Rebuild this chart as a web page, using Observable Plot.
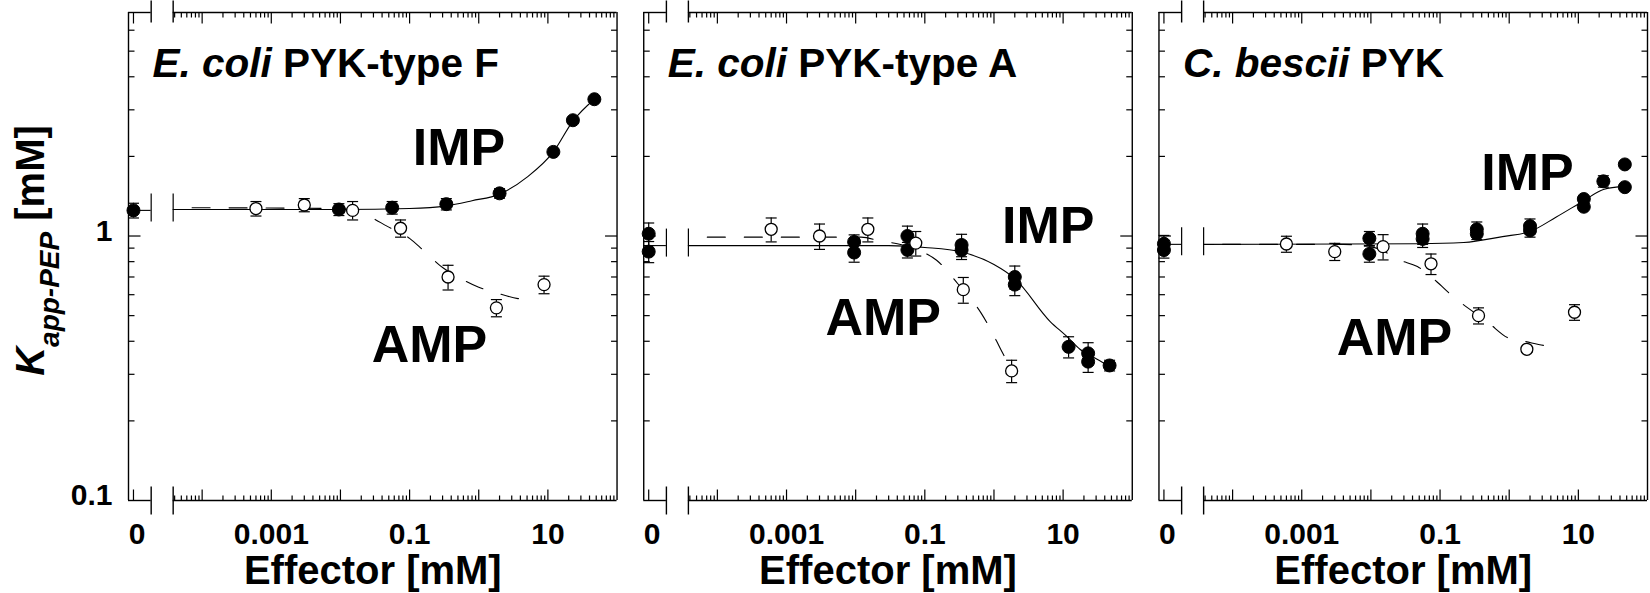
<!DOCTYPE html>
<html>
<head>
<meta charset="utf-8">
<script src="https://cdn.jsdelivr.net/npm/d3@7"></script>
<script src="https://cdn.jsdelivr.net/npm/@observablehq/plot@0.6"></script>
<style>
  html, body { margin: 0; padding: 0; background: #fff; }
  #chart svg { display: block; }
</style>
</head>
<body>
<div id="chart"></div>
<script>
// ---------- data ----------
const panels = ["E. coli PYK-type F", "E. coli PYK-type A", "C. bescii PYK"];
const panelItalic = ["E. coli", "E. coli", "C. bescii"];
const panelRest = [" PYK-type F", " PYK-type A", " PYK"];

// [panel, effector mM, Kapp-PEP mM, ± error]
const impPoints = [
  [0, 0, 1.25, 0.08], [0, 0.0095, 1.26, 0.065], [0, 0.056, 1.28, 0.07], [0, 0.34, 1.32, 0.065],
  [0, 2.0, 1.45, 0.06], [0, 12, 2.08, 0.05], [0, 23, 2.74, 0.06], [0, 47, 3.29, 0.07],
  [1, 0, 1.02, 0.1], [1, 0, 0.873, 0.08], [1, 0.0095, 0.95, 0.06], [1, 0.0095, 0.866, 0.07],
  [1, 0.056, 1.0, 0.09], [1, 0.056, 0.886, 0.06], [1, 0.34, 0.925, 0.09], [1, 0.34, 0.885, 0.07],
  [1, 2.0, 0.70, 0.07], [1, 2.0, 0.655, 0.06], [1, 12, 0.381, 0.035], [1, 23, 0.36, 0.035],
  [1, 23, 0.335, 0.03], [1, 47, 0.324, 0.015],
  [2, 0, 0.935, 0.07], [2, 0, 0.885, 0.06], [2, 0.0095, 0.98, 0.06], [2, 0.0095, 0.856, 0.06],
  [2, 0.056, 1.02, 0.09], [2, 0.056, 0.975, 0.07], [2, 0.34, 1.06, 0.07], [2, 0.34, 1.02, 0.05],
  [2, 2.0, 1.09, 0.07], [2, 2.0, 1.05, 0.06], [2, 12, 1.38, 0.03], [2, 12, 1.29, 0.03],
  [2, 23, 1.61, 0.08], [2, 47, 1.865, 0.02], [2, 47, 1.53, 0.02]
];
const ampPoints = [
  [0, 0.0006, 1.27, 0.08], [0, 0.003, 1.31, 0.075], [0, 0.015, 1.25, 0.1], [0, 0.074, 1.07, 0.08],
  [0, 0.36, 0.70, 0.075], [0, 1.8, 0.535, 0.04], [0, 8.8, 0.655, 0.05],
  [1, 0.0006, 1.06, 0.11], [1, 0.003, 1.0, 0.11], [1, 0.015, 1.06, 0.11], [1, 0.074, 0.94, 0.1],
  [1, 0.36, 0.627, 0.07], [1, 1.8, 0.309, 0.03],
  [2, 0.0006, 0.933, 0.065], [2, 0.003, 0.873, 0.065], [2, 0.015, 0.912, 0.1], [2, 0.074, 0.785, 0.07],
  [2, 0.36, 0.50, 0.035], [2, 1.8, 0.373, 0.01], [2, 8.8, 0.515, 0.035]
];

// fitted curves: [panel, effector mM, Kapp-PEP mM]
const impFit = [
  [0, 3.8e-5, 1.26], [0, 0.01, 1.26], [0, 0.1, 1.27], [0, 0.34, 1.3], [0, 0.8, 1.36], [0, 2, 1.44],
  [0, 5, 1.67], [0, 12, 2.08], [0, 23, 2.72], [0, 47, 3.29],
  [1, 3.8e-5, 0.92], [1, 0.03, 0.92], [1, 0.1, 0.905], [1, 0.34, 0.87], [1, 1, 0.78], [1, 2, 0.69],
  [1, 6.5, 0.475], [1, 11.2, 0.418], [1, 17.5, 0.373], [1, 31, 0.342], [1, 47, 0.322],
  [2, 3.8e-5, 0.93], [2, 0.05, 0.935], [2, 0.22, 0.945], [2, 0.8, 0.995], [2, 2, 1.04],
  [2, 4.8, 1.18], [2, 12, 1.36], [2, 23, 1.5], [2, 47, 1.54]
];
const ampFit = [
  [0, 3.8e-5, 1.28], [0, 0.01, 1.27], [0, 0.027, 1.18], [0, 0.047, 1.09], [0, 0.1, 0.98],
  [0, 0.16, 0.88], [0, 0.3, 0.76], [0, 0.5, 0.7], [0, 1.0, 0.64], [0, 1.8, 0.61], [0, 3.7, 0.58], [0, 6, 0.575],
  [1, 3.8e-5, 0.99], [1, 0.012, 0.99], [1, 0.024, 0.955], [1, 0.04, 0.935], [1, 0.09, 0.873],
  [1, 0.148, 0.81], [1, 0.3, 0.66], [1, 0.656, 0.51], [1, 0.91, 0.44], [1, 1.25, 0.373], [1, 1.6, 0.33],
  [2, 3.8e-5, 0.93], [2, 0.004, 0.93], [2, 0.012, 0.9], [2, 0.026, 0.81], [2, 0.047, 0.767],
  [2, 0.089, 0.673], [2, 0.144, 0.6], [2, 0.5, 0.47], [2, 1.0, 0.41], [2, 1.63, 0.4],
  [2, 3.3, 0.385], [2, 5.6, 0.38]
];
// fitted IMP level over the "0" segment of each panel
const impZeroLevel = [1.25, 0.92, 0.93];

// effector labels: [panel, text, effector mM, Kapp mM] (anchor at baseline start)
const effectorLabels = [
  [0, "IMP", 0.111, 1.855], [0, "AMP", 0.0283, 0.335],
  [1, "IMP", 1.31, 0.939], [1, "AMP", 0.00365, 0.422],
  [2, "IMP", 0.395, 1.49], [2, "AMP", 0.0032, 0.355]
];

// ticks and tick labels
const xMajorTicks = [0, 1e-4, 1e-3, 1e-2, 1e-1, 1, 10];
const xMinorTicks = [];
for (let e = -5; e <= 1; e++) for (let m = 2; m <= 9; m++) {
  const v = +(m * Math.pow(10, e)).toPrecision(3);
  if (v > 3.81e-5 && v < 100) xMinorTicks.push(v);
}
const xTickLabels = [0.001, 0.1, 10];
const xZeroLabel = ["0"];
const yMajorTicks = [1];
const yMinorTicks = [0.2, 0.3, 0.4, 0.5, 0.6, 0.7, 0.8, 0.9, 2, 3, 4, 5, 6];
const yTickLabels = [0.1, 1];
const xTitle = "Effector [mM]";
const yTitle = "K app-PEP [mM]";

// ---------- scale geometry (broken log axis with a "0" segment) ----------
const X_MIN = 8.61e-6, ZERO_AT = 1.016e-5, BREAK_L = 1.832e-5, BREAK_R = 3.81e-5, X_MAX = 100;
const Y_MIN = 0.1, Y_MAX = 7;
const xPos = v => (v === 0 ? ZERO_AT : v);
const P = i => panels[i];

const seg = (x1, y1, x2, y2) => ({
  draw(ctx, size) { const r = Math.sqrt(size / Math.PI); ctx.moveTo(x1 * r, y1 * r); ctx.lineTo(x2 * r, y2 * r); }
});
const symUp = seg(0, 0, 0, -1), symDown = seg(0, 0, 0, 1);
const symRight = seg(0, 0, 1, 0), symLeft = seg(0, 0, -1, 0);
const symV = seg(0, -1, 0, 1), symH = seg(-1, 0, 1, 0);

const FONT = "'Liberation Sans', Arial, Helvetica, sans-serif";
const tickStyle = {fill: "none", stroke: "black", strokeWidth: 1.2};

function errorBars(points) {
  return [
    Plot.ruleX(points, {fx: d => P(d[0]), x: d => xPos(d[1]), y1: d => d[2] - d[3], y2: d => d[2] + d[3], stroke: "black", strokeWidth: 1.2}),
    Plot.dot(points, {fx: d => P(d[0]), x: d => xPos(d[1]), y: d => d[2] - d[3], symbol: symH, r: 5.5, ...tickStyle}),
    Plot.dot(points, {fx: d => P(d[0]), x: d => xPos(d[1]), y: d => d[2] + d[3], symbol: symH, r: 5.5, ...tickStyle})
  ];
}

const svg = Plot.plot({
  width: 1650,
  height: 593,
  marginLeft: 128,
  marginRight: 3,
  marginTop: 12,
  marginBottom: 93,
  style: {fontFamily: FONT, background: "white", overflow: "visible"},
  fx: {domain: panels, axis: null, paddingInner: 0.0518, paddingOuter: 0, round: false},
  x: {type: "log", domain: [X_MIN, X_MAX], axis: null},
  y: {type: "log", domain: [Y_MIN, Y_MAX], axis: null},
  marks: [
    // frame with a gap at the axis break
    Plot.ruleY([Y_MIN, Y_MAX], {y: d => d, x1: X_MIN, x2: BREAK_L, stroke: "black", strokeWidth: 1.4}),
    Plot.ruleY([Y_MIN, Y_MAX], {y: d => d, x1: BREAK_R, x2: X_MAX, stroke: "black", strokeWidth: 1.4}),
    Plot.ruleX([X_MIN, X_MAX], {x: d => d, stroke: "black", strokeWidth: 1.4}),
    // inward ticks on all four sides
    Plot.dot(xMajorTicks, {x: xPos, frameAnchor: "bottom", symbol: symUp, r: 11, ...tickStyle}),
    Plot.dot(xMajorTicks, {x: xPos, frameAnchor: "top", symbol: symDown, r: 11, ...tickStyle}),
    Plot.dot(xMinorTicks, {x: d => d, frameAnchor: "bottom", symbol: symUp, r: 5, ...tickStyle}),
    Plot.dot(xMinorTicks, {x: d => d, frameAnchor: "top", symbol: symDown, r: 5, ...tickStyle}),
    Plot.dot(yMajorTicks, {y: d => d, frameAnchor: "left", symbol: symRight, r: 12, ...tickStyle}),
    Plot.dot(yMajorTicks, {y: d => d, frameAnchor: "right", symbol: symLeft, r: 12, ...tickStyle}),
    Plot.dot(yMinorTicks, {y: d => d, frameAnchor: "left", symbol: symRight, r: 6, ...tickStyle}),
    Plot.dot(yMinorTicks, {y: d => d, frameAnchor: "right", symbol: symLeft, r: 6, ...tickStyle}),
    // axis-break marks
    Plot.dot([BREAK_L, BREAK_R], {x: d => d, frameAnchor: "bottom", symbol: symV, r: 14, ...tickStyle, strokeWidth: 1.4}),
    Plot.dot([BREAK_L, BREAK_R], {x: d => d, frameAnchor: "top", symbol: symV, r: 11, dy: -1, ...tickStyle, strokeWidth: 1.4}),
    // IMP fit over the "0" segment, with break bars
    Plot.ruleY(impZeroLevel, {fx: (d, i) => P(i), y: d => d, x1: ZERO_AT, x2: BREAK_L, stroke: "black", strokeWidth: 1.1}),
    Plot.dot(impZeroLevel, {fx: (d, i) => P(i), y: d => d, x: BREAK_L, symbol: symV, r: 14, dy: -3, ...tickStyle}),
    Plot.dot(impZeroLevel, {fx: (d, i) => P(i), y: d => d, x: BREAK_R, symbol: symV, r: 14, dy: -3, ...tickStyle}),
    // fitted curves
    Plot.line(ampFit, {fx: d => P(d[0]), x: d => d[1], y: d => d[2], curve: "monotone-x", stroke: "black", strokeWidth: 1.1, strokeDasharray: "18,19", strokeDashoffset: 18}),
    Plot.line(impFit, {fx: d => P(d[0]), x: d => d[1], y: d => d[2], curve: "monotone-x", stroke: "black", strokeWidth: 1.1}),
    // IMP (filled) points
    ...errorBars(impPoints),
    Plot.dot(impPoints, {fx: d => P(d[0]), x: d => xPos(d[1]), y: d => d[2], r: 6.5, fill: "black", stroke: "black", strokeWidth: 1}),
    // AMP (open) points
    ...errorBars(ampPoints),
    Plot.dot(ampPoints, {fx: d => P(d[0]), x: d => xPos(d[1]), y: d => d[2], r: 6, fill: "white", stroke: "black", strokeWidth: 1.3}),
    // panel titles
    Plot.text(panels, {fx: d => d, text: d => d, frameAnchor: "top-left", dx: 24, dy: 64, lineAnchor: "bottom", textAnchor: "start", fontSize: 40.5, fontWeight: "bold", fill: "black"}),
    // effector labels
    Plot.text(effectorLabels, {fx: d => P(d[0]), x: d => d[2], y: d => d[3], text: d => d[1], lineAnchor: "bottom", textAnchor: "start", fontSize: 52, fontWeight: "bold", fill: "black"}),
    // x tick labels
    Plot.text(xTickLabels, {x: d => d, text: d => String(d), frameAnchor: "bottom", dy: 43.5, lineAnchor: "bottom", textAnchor: "middle", fontSize: 30, fontWeight: "bold", fill: "black"}),
    Plot.text(xZeroLabel, {x: ZERO_AT, text: d => d, frameAnchor: "bottom", dx: 3.5, dy: 43.5, lineAnchor: "bottom", textAnchor: "middle", fontSize: 30, fontWeight: "bold", fill: "black"}),
    // x title
    Plot.text([xTitle], {text: d => d, frameAnchor: "bottom", dy: 83, lineAnchor: "bottom", textAnchor: "middle", fontSize: 40, fontWeight: "bold", fill: "black"}),
    // y tick labels (first panel only)
    Plot.text(yTickLabels, {fx: () => panels[0], y: d => d, text: d => String(d), frameAnchor: "left", dx: -16, dy: -5, lineAnchor: "middle", textAnchor: "end", fontSize: 30, fontWeight: "bold", fill: "black"}),
    // y title
    Plot.text([yTitle], {fx: () => panels[0], text: d => d, frameAnchor: "left", dx: -85, dy: -6, rotate: -90, lineAnchor: "bottom", textAnchor: "middle", fontSize: 40, fontWeight: "bold", fill: "black"})
  ]
});

// rich text: italic species names, italic K with subscript
d3.select(svg).selectAll("text").each(function () {
  const t = this.textContent;
  const i = panels.indexOf(t);
  const sel = d3.select(this);
  if (i >= 0) {
    this.textContent = "";
    sel.append("tspan").attr("font-style", "italic").text(panelItalic[i]);
    sel.append("tspan").text(panelRest[i]);
  } else if (t === yTitle) {
    this.textContent = "";
    sel.append("tspan").attr("font-style", "italic").text("K");
    sel.append("tspan").attr("font-style", "italic").attr("font-size", 28).attr("dy", 15).text("app-PEP");
    sel.append("tspan").attr("dy", -15).text("\u00A0[mM]");
  }
});

document.getElementById("chart").appendChild(svg);
</script>
</body>
</html>
